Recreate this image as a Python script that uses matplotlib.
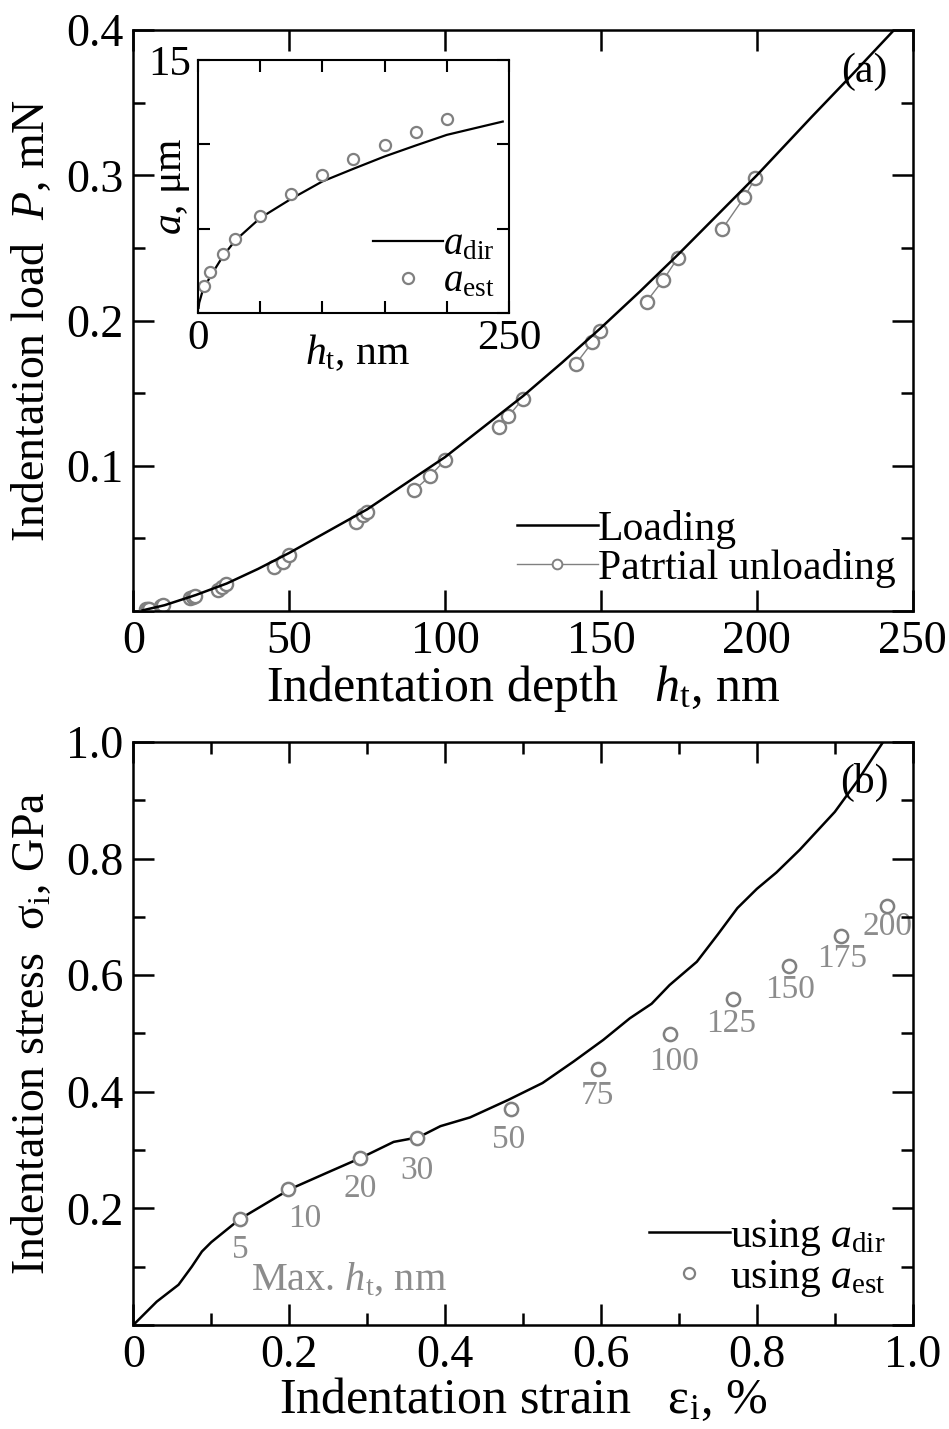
import matplotlib
matplotlib.use("Agg")
import matplotlib.pyplot as plt
from matplotlib.lines import Line2D
from matplotlib.ticker import FixedLocator, FixedFormatter, MultipleLocator

plt.rcParams['font.family'] = ['Liberation Serif', 'DejaVu Serif']
plt.rcParams['mathtext.fontset'] = 'custom'
plt.rcParams['mathtext.rm'] = 'Liberation Serif'
plt.rcParams['mathtext.it'] = 'Liberation Serif:italic'
plt.rcParams['mathtext.bf'] = 'Liberation Serif:bold'

# ---------------- data: panel (a) loading curve ----------------
load_h = [3, 5, 10, 20, 30, 40, 50, 62.5, 75, 87.5, 100, 112.5, 125, 137.5, 150,
          162.5, 175, 187.5, 200, 217.5, 230, 244]
load_P = [0.0005, 0.0015, 0.004, 0.011, 0.019, 0.029, 0.040, 0.055, 0.070, 0.088, 0.106,
          0.127, 0.148, 0.171, 0.195, 0.220, 0.246, 0.273, 0.300, 0.340, 0.368, 0.400]

# partial unloading segments (one list per max depth)
unload_h = [[4.2, 4.6, 4.9], [8.8, 9.3, 9.6], [18.3, 19.2, 19.8], [27.0, 28.6, 29.8],
            [45.2, 47.9, 50.0], [71.4, 73.6, 74.9], [90.0, 95.2, 100.0],
            [117.4, 120.3, 124.9], [141.9, 147.2, 149.7], [164.6, 170.0, 174.6],
            [188.9, 196.0, 199.5]]
unload_P = [[0.0012, 0.0014, 0.0016], [0.0035, 0.0038, 0.0042], [0.0093, 0.0100, 0.0106],
            [0.0145, 0.0165, 0.0184], [0.030, 0.034, 0.0386], [0.061, 0.066, 0.0685],
            [0.083, 0.093, 0.104], [0.127, 0.134, 0.146], [0.170, 0.185, 0.193],
            [0.213, 0.228, 0.243], [0.263, 0.285, 0.298]]

# inset: contact radius
adir_h = [0.5, 1, 4, 10, 20, 30, 50, 75, 100, 125, 150, 175, 200, 225, 245]
adir_a = [0.3, 0.6, 1.38, 2.17, 3.36, 4.30, 5.63, 6.77, 7.80, 8.55, 9.28, 9.93, 10.56, 11.0, 11.35]
aest_h = [5, 10, 20, 30, 50, 75, 100, 125, 150, 175, 200]
aest_a = [1.62, 2.41, 3.51, 4.38, 5.76, 7.07, 8.17, 9.14, 9.97, 10.76, 11.49]

# ---------------- data: panel (b) ----------------
sdir_eps = [0, 0.03, 0.058, 0.075, 0.088, 0.10, 0.137, 0.201, 0.25, 0.291, 0.334, 0.366,
            0.394, 0.432, 0.481, 0.525, 0.565, 0.603, 0.637, 0.665, 0.688, 0.723, 0.750,
            0.775, 0.800, 0.825, 0.855, 0.90, 0.93, 0.962]
sdir_sig = [0, 0.040, 0.069, 0.100, 0.126, 0.142, 0.182, 0.233, 0.262, 0.286, 0.314, 0.322,
            0.341, 0.356, 0.386, 0.415, 0.452, 0.489, 0.526, 0.551, 0.583, 0.623, 0.670,
            0.715, 0.748, 0.776, 0.815, 0.880, 0.935, 1.0]
sest_eps = [0.137, 0.199, 0.291, 0.364, 0.485, 0.596, 0.688, 0.769, 0.841, 0.908, 0.967]
sest_sig = [0.182, 0.233, 0.286, 0.321, 0.370, 0.439, 0.499, 0.559, 0.616, 0.667, 0.719]
max_ht_labels = ['5', '10', '20', '30', '50', '75', '100', '125', '150', '175', '200']

# label offsets in points (layout)
lab_off = [(0, -22), (12, -21), (0, -22), (0, -24), (-2, -22), (0, -19), (3, -20),
           (-1, -18), (1, -17), (1, -16), (0, -15)]

GRAY = '#808080'
TGRAY = '#8c8c8c'
TICK = 33
XLAB = 36
YLAB = 33
LEG = 30

fig = plt.figure(figsize=(9.49, 14.29), dpi=100)
axa = fig.add_axes([0.1405, 0.5724, 0.8213, 0.4066])
axb = fig.add_axes([0.1405, 0.0728, 0.8213, 0.408])


def style(ax, major_len=15, minor_len=8.5, lw=1.8, size=TICK):
    for s in ax.spines.values():
        s.set_linewidth(lw)
    ax.tick_params(which='both', direction='in', top=True, right=True,
                   labelsize=size, width=lw, pad=7)
    ax.tick_params(which='major', length=major_len)
    ax.tick_params(which='minor', length=minor_len)


# ---- panel (a)
axa.plot(load_h, load_P, color='black', lw=1.8, zorder=3)
for i, (hh, pp) in enumerate(zip(unload_h, unload_P)):
    axa.plot(hh, pp, color=GRAY, lw=1.0, marker='o', ms=9.5, mfc='white',
             mec=GRAY, mew=1.7, zorder=2)
axa.set_xlim(0, 250)
axa.set_ylim(0, 0.4)
axa.xaxis.set_major_locator(FixedLocator([0, 50, 100, 150, 200, 250]))
axa.xaxis.set_major_formatter(FixedFormatter(['0', '50', '100', '150', '200', '250']))
axa.yaxis.set_major_locator(FixedLocator([0, 0.1, 0.2, 0.3, 0.4]))
axa.yaxis.set_major_formatter(FixedFormatter(['', '0.1', '0.2', '0.3', '0.4']))
axa.yaxis.set_minor_locator(MultipleLocator(0.05))
style(axa)
axa.set_xlabel(r'Indentation depth   $h_{\mathrm{t}}$, nm', fontsize=XLAB, labelpad=0)
axa.set_ylabel(r'Indentation load  $P$, mN', fontsize=YLAB, labelpad=9)
axa.text(0.938, 0.928, '(a)', transform=axa.transAxes, fontsize=30,
         ha='center', va='center')
h1 = Line2D([], [], color='black', lw=1.8)
h2 = Line2D([], [], color=GRAY, lw=1.0, marker='o', ms=7, mfc='white', mec=GRAY, mew=1.4)
axa.legend([h1, h2], ['Loading', 'Patrtial unloading'], loc='lower right',
           bbox_to_anchor=(0.978, 0.04), frameon=False, fontsize=LEG,
           handlelength=1.95, handletextpad=0.0, labelspacing=0.0,
           borderpad=0, borderaxespad=0)

# ---- inset
axi = fig.add_axes([0.2086, 0.781, 0.3277, 0.177])
axi.plot(adir_h, adir_a, color='black', lw=1.6)
axi.plot(aest_h, aest_a, ls='none', marker='o', ms=8, mfc='white', mec=GRAY, mew=1.6)
axi.set_xlim(0, 250)
axi.set_ylim(0, 15)
axi.xaxis.set_major_locator(FixedLocator([0, 50, 100, 150, 200, 250]))
axi.xaxis.set_major_formatter(FixedFormatter(['0', '', '', '', '', '250']))
axi.yaxis.set_major_locator(FixedLocator([0, 5, 10, 15]))
axi.yaxis.set_major_formatter(FixedFormatter(['', '', '', '15']))
style(axi, major_len=8.5, lw=1.5, size=31)
axi.tick_params(pad=5)
axi.set_xlabel(r'$h_{\mathrm{t}}$, nm', fontsize=30)
axi.xaxis.set_label_coords(0.514, -0.075)
axi.set_ylabel(r'$a$, μm', fontsize=30)
axi.yaxis.set_label_coords(-0.02, 0.5)
hi1 = Line2D([], [], color='black', lw=1.6)
hi2 = Line2D([], [], ls='none', marker='o', ms=8, mfc='white', mec=GRAY, mew=1.6)
axi.legend([hi1, hi2], [r'$a_{\mathrm{dir}}$', r'$a_{\mathrm{est}}$'], loc='lower right',
           bbox_to_anchor=(0.955, 0.05), frameon=False, fontsize=28,
           handlelength=1.8, handletextpad=0.0, labelspacing=0.0,
           borderpad=0, borderaxespad=0)

# ---- panel (b)
axb.plot(sdir_eps, sdir_sig, color='black', lw=1.8, zorder=3)
axb.plot(sest_eps, sest_sig, ls='none', marker='o', ms=9.5, mfc='white', mec=GRAY,
         mew=1.8, zorder=4)
for x, y, t, off in zip(sest_eps, sest_sig, max_ht_labels, lab_off):
    axb.annotate(t, (x, y), xytext=off, textcoords='offset points', ha='center',
                 va='center', fontsize=24, color=TGRAY, zorder=1)
axb.text(0.276, 0.077, r'Max. $h_{\mathrm{t}}$, nm', fontsize=29, color=TGRAY,
         ha='center', va='center')
axb.set_xlim(0, 1.0)
axb.set_ylim(0, 1.0)
axb.xaxis.set_major_locator(FixedLocator([0, 0.2, 0.4, 0.6, 0.8, 1.0]))
axb.xaxis.set_major_formatter(FixedFormatter(['0', '0.2', '0.4', '0.6', '0.8', '1.0']))
axb.yaxis.set_major_locator(FixedLocator([0, 0.2, 0.4, 0.6, 0.8, 1.0]))
axb.yaxis.set_major_formatter(FixedFormatter(['', '0.2', '0.4', '0.6', '0.8', '1.0']))
axb.xaxis.set_minor_locator(MultipleLocator(0.1))
axb.yaxis.set_minor_locator(MultipleLocator(0.1))
style(axb)
axb.set_xlabel(r'Indentation strain   ε$_{\mathrm{i}}$, %', fontsize=XLAB, labelpad=0)
axb.set_ylabel(r'Indentation stress  σ$_{\mathrm{i}}$, GPa', fontsize=YLAB, labelpad=9)
axb.text(0.938, 0.931, '(b)', transform=axb.transAxes, fontsize=30,
         ha='center', va='center')
hb1 = Line2D([], [], color='black', lw=1.8)
hb2 = Line2D([], [], ls='none', marker='o', ms=8, mfc='white', mec=GRAY, mew=1.6)
axb.legend([hb1, hb2], [r'using $a_{\mathrm{dir}}$', r'using $a_{\mathrm{est}}$'],
           loc='lower right', bbox_to_anchor=(0.965, 0.045), frameon=False, fontsize=LEG,
           handlelength=1.95, handletextpad=0.0, labelspacing=0.0,
           borderpad=0, borderaxespad=0)

fig.savefig('out.png', dpi=100)
